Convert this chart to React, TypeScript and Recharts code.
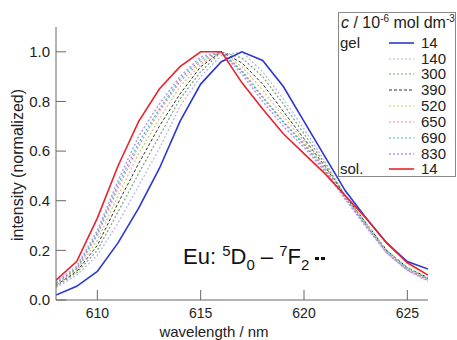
import { LineChart, Line, XAxis, YAxis, Label } from 'recharts';

// wavelength grid (nm)
const wavelength = [608, 609, 610, 611, 612, 613, 614, 615, 616, 617, 618, 619, 620, 621, 622, 623, 624, 625, 626];

// normalized intensities
const gel14 = [0.02, 0.055, 0.115, 0.23, 0.37, 0.53, 0.72, 0.87, 0.96, 1.0, 0.965, 0.86, 0.72, 0.58, 0.44, 0.33, 0.23, 0.155, 0.125];
const gel140 = [0.05, 0.1, 0.18, 0.31, 0.46, 0.61, 0.78, 0.9, 0.985, 1.0, 0.92, 0.81, 0.69, 0.56, 0.42, 0.3, 0.19, 0.12, 0.075];
const gel300 = [0.055, 0.11, 0.2, 0.355, 0.51, 0.66, 0.81, 0.92, 1.0, 0.975, 0.9, 0.79, 0.67, 0.55, 0.42, 0.31, 0.2, 0.13, 0.085];
const gel390 = [0.06, 0.115, 0.22, 0.39, 0.55, 0.7, 0.83, 0.94, 1.0, 0.955, 0.87, 0.76, 0.65, 0.54, 0.42, 0.31, 0.2, 0.13, 0.09];
const gel520 = [0.062, 0.12, 0.24, 0.42, 0.59, 0.73, 0.86, 0.95, 1.0, 0.94, 0.845, 0.74, 0.64, 0.535, 0.42, 0.31, 0.2, 0.13, 0.09];
const gel650 = [0.066, 0.125, 0.26, 0.45, 0.62, 0.76, 0.88, 0.96, 1.0, 0.925, 0.82, 0.72, 0.63, 0.53, 0.41, 0.3, 0.19, 0.12, 0.08];
const gel690 = [0.068, 0.128, 0.27, 0.465, 0.635, 0.77, 0.89, 0.97, 1.0, 0.92, 0.815, 0.715, 0.625, 0.525, 0.41, 0.3, 0.195, 0.125, 0.085];
const gel830 = [0.072, 0.135, 0.28, 0.48, 0.66, 0.79, 0.9, 0.98, 1.0, 0.91, 0.8, 0.7, 0.615, 0.52, 0.405, 0.295, 0.19, 0.12, 0.08];
const sol14 = [0.08, 0.155, 0.33, 0.54, 0.72, 0.85, 0.94, 1.0, 1.0, 0.875, 0.77, 0.67, 0.59, 0.51, 0.42, 0.33, 0.23, 0.15, 0.1];

const xTicks = [610, 615, 620, 625];
const yTicks = [0, 0.2, 0.4, 0.6, 0.8, 1.0];

const series = [
  { key: 'gel14', group: 'gel', label: '14', values: gel14, color: '#2b36d4', dash: undefined, width: 1.6 },
  { key: 'gel140', group: '', label: '140', values: gel140, color: '#aeb2f2', dash: '2 2', width: 1.2 },
  { key: 'gel300', group: '', label: '300', values: gel300, color: '#6fa873', dash: '2 2', width: 1.2 },
  { key: 'gel390', group: '', label: '390', values: gel390, color: '#333333', dash: '3 2', width: 1 },
  { key: 'gel520', group: '', label: '520', values: gel520, color: '#c9c873', dash: '2 2', width: 1.2 },
  { key: 'gel650', group: '', label: '650', values: gel650, color: '#ee7fb2', dash: '2 2', width: 1.2 },
  { key: 'gel690', group: '', label: '690', values: gel690, color: '#3fbcb0', dash: '2 2', width: 1.2 },
  { key: 'gel830', group: '', label: '830', values: gel830, color: '#b894ec', dash: '2 2', width: 1.5 },
  { key: 'sol14', group: 'sol.', label: '14', values: sol14, color: '#e8232b', dash: undefined, width: 1.6 },
];

const data = wavelength.map((x, i) => {
  const row: Record<string, number> = { x };
  series.forEach((s) => (row[s.key] = s.values[i]));
  return row;
});

const FONT = '"Liberation Sans", Arial, Helvetica, sans-serif';
const AXIS = '#666';
const INK = '#222';

const drawOrder = [...series.slice(1, 8), series[0], series[8]];

const ChartLegend = () => (
  <div
    style={{
      position: 'absolute',
      left: 338,
      top: 12,
      width: 118,
      height: 165,
      boxSizing: 'border-box',
      border: '1px solid #888',
      background: '#fff',
      fontFamily: FONT,
      color: INK,
    }}
  >
    <div style={{ position: 'absolute', left: 2, top: 1, fontSize: 16, whiteSpace: 'nowrap', lineHeight: '18px' }}>
      <i>c</i> / 10<sup style={{ fontSize: 10, verticalAlign: '6px', lineHeight: 0 }}>-6</sup> mol dm
      <sup style={{ fontSize: 10, verticalAlign: '6px', lineHeight: 0 }}>-3</sup>
    </div>
    {series.map((s, i) => {
      const cy = 41.7 + 15.83 * i - 12;
      return (
        <div key={s.key} style={{ position: 'absolute', left: 0, top: cy - 8, width: 116, height: 16, fontSize: 15, lineHeight: '16px' }}>
          <span style={{ position: 'absolute', left: 1 }}>{s.group}</span>
          <svg style={{ position: 'absolute', left: 50, top: 0 }} width={26} height={16}>
            <line x1={0} y1={8} x2={25} y2={8} stroke={s.color} strokeWidth={s.width} strokeDasharray={s.dash} />
          </svg>
          <span style={{ position: 'absolute', left: 82 }}>{s.label}</span>
        </div>
      );
    })}
  </div>
);

const Annotation = () => (
  <div style={{ position: 'absolute', left: 183, top: 244, fontFamily: FONT, fontSize: 22, color: '#111', whiteSpace: 'nowrap', lineHeight: '26px' }}>
    Eu: <sup style={{ fontSize: 15, verticalAlign: '8px', lineHeight: 0 }}>5</sup>D
    <sub style={{ fontSize: 15, verticalAlign: '-6px', lineHeight: 0 }}>0</sub> – <sup style={{ fontSize: 15, verticalAlign: '8px', lineHeight: 0 }}>7</sup>F
    <sub style={{ fontSize: 15, verticalAlign: '-6px', lineHeight: 0 }}>2</sub>
    <span style={{ display: 'inline-block', width: 4, height: 3, background: '#111', marginLeft: 6, verticalAlign: '4px' }} />
    <span style={{ display: 'inline-block', width: 4, height: 3, background: '#111', marginLeft: 2, verticalAlign: '4px' }} />
  </div>
);

const App = () => {
  return (
    <div style={{ position: 'absolute', left: 0, top: 0, width: 457, height: 340, background: '#fff' }}>
      <LineChart width={457} height={340} data={data} margin={{ top: 27, right: 29, bottom: 0, left: 0 }}>
        <XAxis
          dataKey="x"
          type="number"
          domain={[608, 626]}
          ticks={xTicks}
          allowDataOverflow
          height={40}
          stroke={AXIS}
          tickSize={-10}
          tickMargin={18}
          tick={{ fill: INK, fontSize: 14, fontFamily: FONT }}
        >
          <Label
            content={() => (
              <text x={214} y={337} textAnchor="middle" fill={INK} fontSize={15} fontFamily={FONT}>
                wavelength / nm
              </text>
            )}
          />
        </XAxis>
        <XAxis
          xAxisId="top"
          orientation="top"
          dataKey="x"
          type="number"
          domain={[608, 626]}
          ticks={xTicks}
          allowDataOverflow
          height={0}
          stroke={AXIS}
          tickSize={-10}
          tick={false}
        />
        <YAxis
          type="number"
          domain={[0, 1.1]}
          ticks={yTicks}
          allowDataOverflow
          width={56}
          stroke={AXIS}
          tickSize={-10}
          tickMargin={16}
          tickFormatter={(v: number) => v.toFixed(1)}
          tick={{ fill: INK, fontSize: 15, fontFamily: FONT }}
        >
          <Label
            content={() => (
              <text
                x={17}
                y={165}
                transform="rotate(-90 17 165)"
                textAnchor="middle"
                dominantBaseline="central"
                fill={INK}
                fontSize={16}
                fontFamily={FONT}
              >
                intensity (normalized)
              </text>
            )}
          />
        </YAxis>
        <YAxis
          yAxisId="right"
          orientation="right"
          type="number"
          domain={[0, 1.1]}
          ticks={yTicks}
          allowDataOverflow
          width={0}
          stroke={AXIS}
          tickSize={-10}
          tick={false}
        />
        {drawOrder.map((s) => (
          <Line
            key={s.key}
            type="linear"
            dataKey={s.key}
            stroke={s.color}
            strokeWidth={s.width}
            strokeDasharray={s.dash}
            dot={false}
            activeDot={false}
            isAnimationActive={false}
          />
        ))}
      </LineChart>
      <Annotation />
      <ChartLegend />
    </div>
  );
};

export default App;
